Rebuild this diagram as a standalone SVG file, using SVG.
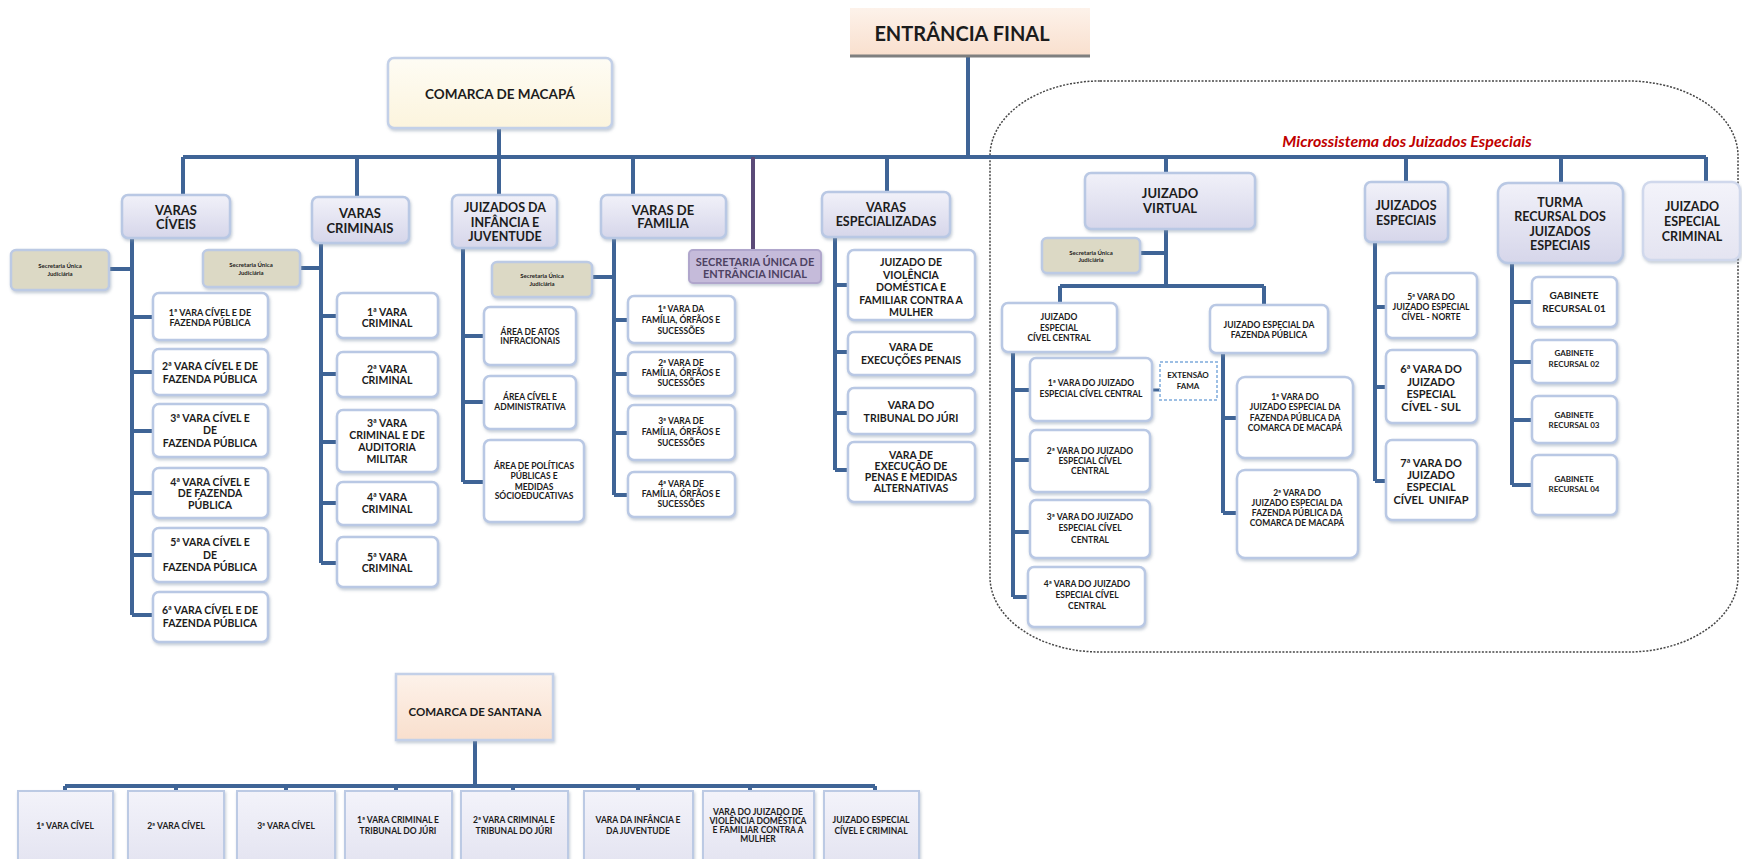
<svg xmlns="http://www.w3.org/2000/svg" width="1742" height="859" viewBox="0 0 1742 859">
<defs>
<linearGradient id="lav" x1="0" y1="0" x2="0" y2="1"><stop offset="0" stop-color="#f1f1f9"/><stop offset="1" stop-color="#d6d6ea"/></linearGradient>
<linearGradient id="lav2" x1="0" y1="0" x2="0" y2="1"><stop offset="0" stop-color="#f3f3fa"/><stop offset="1" stop-color="#e4e4f1"/></linearGradient>
<linearGradient id="peach" x1="0" y1="0" x2="0" y2="1"><stop offset="0" stop-color="#fdf2ea"/><stop offset="1" stop-color="#f9dfcd"/></linearGradient>
<linearGradient id="cream" x1="0" y1="0" x2="0" y2="1"><stop offset="0" stop-color="#fefcf4"/><stop offset="1" stop-color="#fcf4dd"/></linearGradient>
<filter id="sh" x="-10%" y="-10%" width="130%" height="140%"><feDropShadow dx="1" dy="2" stdDeviation="1.5" flood-color="#7f8fa6" flood-opacity="0.45"/></filter>
</defs>
<style>
.hdr{fill:url(#lav);stroke:#b9c8e4;stroke-width:2.5;filter:url(#sh)}
.leaf{fill:#ffffff;stroke:#b9c8e4;stroke-width:2.5;filter:url(#sh)}
.sec{fill:#dcd9c5;stroke:#bccae4;stroke-width:2.5;filter:url(#sh)}
.st{fill:url(#lav2);stroke:#bccae4;stroke-width:2;filter:url(#sh)}
.t{font-family:Lato,"Liberation Sans",sans-serif;font-weight:bold;fill:#1c1c1c;text-anchor:middle}
.ln{stroke:#3f6496;stroke-width:4;fill:none}
.f13{font-size:13px}.f12{font-size:12.5px}.f11{font-size:11px}.f10{font-size:10.5px}.f9{font-size:9px}.f8{font-size:8.5px}.f6{font-size:6px}
</style>
<rect width="1742" height="859" fill="#ffffff"/>

<!-- dashed boundary of micro-system -->
<rect x="990" y="81" width="748" height="571" rx="110" ry="75" fill="none" stroke="#454545" stroke-width="1.5" stroke-dasharray="2,1.5"/>
<text x="1407" y="147" font-family="Lato,'Liberation Sans',sans-serif" font-weight="bold" font-style="italic" font-size="16" fill="#c00000" text-anchor="middle">Microssistema dos Juizados Especiais</text>

<g id="connectors">
<path class="ln" d="M968,57V157 M183,157H1706 M499,128V195 M183,157V195 M357,157V197 M633,157V195 M887,157V192 M1166,157V173 M1406,157V182 M1561,157V183 M1706,157V182"/>
<path d="M753,157V250" stroke="#5b4a78" stroke-width="4"/>
<path class="ln" d="M132,238V615 M109,269H132 M132,317H153 M132,372H153 M132,431H153 M132,493H153 M132,555H153 M132,615H153"/>
<path class="ln" d="M321,243V563 M300,268H321 M321,316H337 M321,374H337 M321,442H337 M321,503H337 M321,563H337"/>
<path class="ln" d="M463,248V482 M463,336H484 M463,402H484 M463,482H484"/>
<path class="ln" d="M614,238V495 M591,277H614 M614,320H628 M614,374H628 M614,433H628 M614,495H628"/>
<path class="ln" d="M835,237V470 M835,285H848 M835,352H848 M835,413H848 M835,470H848"/>
<path class="ln" d="M1166,229V286 M1140,253H1166 M1060,286H1264 M1060,286V303 M1264,286V305"/>
<path class="ln" d="M1013,352V597 M1013,390H1030 M1013,460H1030 M1013,532H1030 M1013,597H1028"/>
<path class="ln" d="M1223,353V513 M1223,418H1237 M1223,513H1237"/>
<path class="ln" d="M1375,242V481 M1375,307H1386 M1375,387H1386 M1375,481H1386"/>
<path class="ln" d="M1512,263V485 M1512,302H1532 M1512,362H1532 M1512,420H1532 M1512,485H1532"/>
<path d="M1152,390H1160" stroke="#3f6496" stroke-width="3"/>
<path class="ln" d="M475,740V786 M65,786H875 M65,786V791 M176,786V791 M286,786V791 M396,786V791 M513,786V791 M638,786V791 M750,786V791 M875,786V791"/>
</g>

<g id="entrancia-final">
<rect x="850" y="8" width="240" height="49" fill="url(#peach)"/>
<path d="M850,56H1090" stroke="#7f7f7f" stroke-width="3"/>
<text class="t" x="962" y="41" font-size="20">ENTRÂNCIA FINAL</text>
</g>

<g id="comarca-macapa">
<rect x="388" y="58" width="224" height="70" rx="6" fill="url(#cream)" stroke="#c3d0e8" stroke-width="2.5" filter="url(#sh)"/>
<text class="t" x="500" y="99" font-size="13.5">COMARCA DE MACAPÁ</text>
</g>

<g id="varas-civeis"><rect class="hdr" x="122" y="195" width="108" height="43" rx="6"/><text class="t f13" x="176"><tspan x="176" y="215">VARAS</tspan><tspan x="176" y="229">CÍVEIS</tspan></text></g>
<g id="varas-criminais"><rect class="hdr" x="312" y="197" width="97" height="46" rx="6"/><text class="t f13" x="360"><tspan x="360" y="218">VARAS</tspan><tspan x="360" y="233">CRIMINAIS</tspan></text></g>
<g id="juizados-infancia"><rect class="hdr" x="452" y="195" width="105" height="53" rx="6"/><text class="t f12" x="505"><tspan x="505" y="212">JUIZADOS DA</tspan><tspan x="505" y="227">INFÂNCIA E</tspan><tspan x="505" y="241">JUVENTUDE</tspan></text></g>
<g id="varas-familia"><rect class="hdr" x="601" y="195" width="125" height="43" rx="6"/><text class="t f13" x="663"><tspan x="663" y="215">VARAS DE</tspan><tspan x="663" y="228">FAMILIA</tspan></text></g>
<g id="varas-especializadas"><rect class="hdr" x="822" y="192" width="128" height="45" rx="6"/><text class="t f12" x="886"><tspan x="886" y="212">VARAS</tspan><tspan x="886" y="226">ESPECIALIZADAS</tspan></text></g>
<g id="juizado-virtual"><rect class="hdr" x="1085" y="173" width="170" height="56" rx="6"/><text class="t f13" x="1170"><tspan x="1170" y="198">JUIZADO</tspan><tspan x="1170" y="213">VIRTUAL</tspan></text></g>
<g id="juizados-especiais"><rect class="hdr" x="1365" y="182" width="83" height="60" rx="6"/><text class="t f12" x="1406"><tspan x="1406" y="210">JUIZADOS</tspan><tspan x="1406" y="225">ESPECIAIS</tspan></text></g>
<g id="turma-recursal"><rect class="hdr" x="1498" y="183" width="125" height="80" rx="10"/><text class="t f12" x="1560"><tspan x="1560" y="207">TURMA</tspan><tspan x="1560" y="221">RECURSAL DOS</tspan><tspan x="1560" y="236">JUIZADOS</tspan><tspan x="1560" y="250">ESPECIAIS</tspan></text></g>
<g id="juizado-especial-criminal"><rect x="1643" y="182" width="97" height="78" rx="8" fill="url(#lav2)" stroke="#d0d8ec" stroke-width="2.5" filter="url(#sh)"/><text class="t f12" x="1692"><tspan x="1692" y="211">JUIZADO</tspan><tspan x="1692" y="226">ESPECIAL</tspan><tspan x="1692" y="241">CRIMINAL</tspan></text></g>

<g id="sec-civeis"><rect class="sec" x="11" y="250" width="98" height="40" rx="5"/><text class="t f6" x="60"><tspan x="60" y="268">Secretaria Única</tspan><tspan x="60" y="276">Judiciária</tspan></text></g>
<g id="sec-criminais"><rect class="sec" x="203" y="250" width="97" height="37" rx="5"/><text class="t f6" x="251"><tspan x="251" y="267">Secretaria Única</tspan><tspan x="251" y="275">Judiciária</tspan></text></g>
<g id="sec-familia"><rect class="sec" x="492" y="262" width="100" height="35" rx="5"/><text class="t f6" x="542"><tspan x="542" y="278">Secretaria Única</tspan><tspan x="542" y="286">Judiciária</tspan></text></g>
<g id="sec-virtual"><rect class="sec" x="1042" y="238" width="98" height="35" rx="5"/><text class="t f6" x="1091"><tspan x="1091" y="255">Secretaria Única</tspan><tspan x="1091" y="262">Judiciária</tspan></text></g>
<g id="secretaria-entrancia-inicial"><rect x="689" y="250" width="132" height="33" rx="4" fill="#c5bbda" stroke="#b0a6cc" stroke-width="2" filter="url(#sh)"/><text class="t f11" x="755" style="fill:#4d4262"><tspan x="755" y="266">SECRETARIA ÚNICA DE</tspan><tspan x="755" y="278">ENTRÂNCIA INICIAL</tspan></text></g>

<g id="vc1"><rect class="leaf" x="153" y="293" width="115" height="47" rx="6"/><text class="t f9" x="210"><tspan x="210" y="316">1ª VARA CÍVEL E DE</tspan><tspan x="210" y="326">FAZENDA PÚBLICA</tspan></text></g>
<g id="vc2"><rect class="leaf" x="153" y="349" width="115" height="46" rx="6"/><text class="t f10" x="210"><tspan x="210" y="370">2ª VARA CÍVEL E DE</tspan><tspan x="210" y="383">FAZENDA PÚBLICA</tspan></text></g>
<g id="vc3"><rect class="leaf" x="153" y="404" width="115" height="53" rx="6"/><text class="t f10" x="210"><tspan x="210" y="422">3ª VARA CÍVEL E</tspan><tspan x="210" y="434">DE</tspan><tspan x="210" y="447">FAZENDA PÚBLICA</tspan></text></g>
<g id="vc4"><rect class="leaf" x="153" y="468" width="115" height="50" rx="6"/><text class="t f10" x="210"><tspan x="210" y="486">4ª VARA CÍVEL E</tspan><tspan x="210" y="497">DE FAZENDA</tspan><tspan x="210" y="509">PÚBLICA</tspan></text></g>
<g id="vc5"><rect class="leaf" x="153" y="528" width="115" height="54" rx="6"/><text class="t f10" x="210"><tspan x="210" y="546">5ª VARA CÍVEL E</tspan><tspan x="210" y="559">DE</tspan><tspan x="210" y="571">FAZENDA PÚBLICA</tspan></text></g>
<g id="vc6"><rect class="leaf" x="153" y="592" width="115" height="50" rx="6"/><text class="t f10" x="210"><tspan x="210" y="614">6ª VARA CÍVEL E DE</tspan><tspan x="210" y="627">FAZENDA PÚBLICA</tspan></text></g>

<g id="cr1"><rect class="leaf" x="337" y="293" width="101" height="45" rx="6"/><text class="t f10" x="387"><tspan x="387" y="316">1ª VARA</tspan><tspan x="387" y="327">CRIMINAL</tspan></text></g>
<g id="cr2"><rect class="leaf" x="337" y="352" width="101" height="45" rx="6"/><text class="t f10" x="387"><tspan x="387" y="373">2ª VARA</tspan><tspan x="387" y="384">CRIMINAL</tspan></text></g>
<g id="cr3"><rect class="leaf" x="337" y="410" width="101" height="62" rx="6"/><text class="t f10" x="387"><tspan x="387" y="427">3ª VARA</tspan><tspan x="387" y="439">CRIMINAL E DE</tspan><tspan x="387" y="451">AUDITORIA</tspan><tspan x="387" y="463">MILITAR</tspan></text></g>
<g id="cr4"><rect class="leaf" x="337" y="482" width="101" height="43" rx="6"/><text class="t f10" x="387"><tspan x="387" y="501">4ª VARA</tspan><tspan x="387" y="513">CRIMINAL</tspan></text></g>
<g id="cr5"><rect class="leaf" x="337" y="537" width="101" height="50" rx="6"/><text class="t f10" x="387"><tspan x="387" y="561">5ª VARA</tspan><tspan x="387" y="572">CRIMINAL</tspan></text></g>

<g id="ij1"><rect class="leaf" x="484" y="307" width="92" height="58" rx="6"/><text class="t f8" x="530"><tspan x="530" y="335">ÁREA DE ATOS</tspan><tspan x="530" y="344">INFRACIONAIS</tspan></text></g>
<g id="ij2"><rect class="leaf" x="484" y="376" width="92" height="53" rx="6"/><text class="t f8" x="530"><tspan x="530" y="400">ÁREA CÍVEL E</tspan><tspan x="530" y="410">ADMINISTRATIVA</tspan></text></g>
<g id="ij3"><rect class="leaf" x="484" y="440" width="100" height="82" rx="6"/><text class="t f8" x="534"><tspan x="534" y="469">ÁREA DE POLÍTICAS</tspan><tspan x="534" y="479">PÚBLICAS E</tspan><tspan x="534" y="490">MEDIDAS</tspan><tspan x="534" y="499">SÓCIOEDUCATIVAS</tspan></text></g>

<g id="fa1"><rect class="leaf" x="628" y="296" width="107" height="47" rx="6"/><text class="t f8" x="681"><tspan x="681" y="312">1ª VARA DA</tspan><tspan x="681" y="323">FAMÍLIA, ÓRFÃOS E</tspan><tspan x="681" y="334">SUCESSÕES</tspan></text></g>
<g id="fa2"><rect class="leaf" x="628" y="352" width="107" height="44" rx="6"/><text class="t f8" x="681"><tspan x="681" y="366">2ª VARA DE</tspan><tspan x="681" y="376">FAMÍLIA, ÓRFÃOS E</tspan><tspan x="681" y="386">SUCESSÕES</tspan></text></g>
<g id="fa3"><rect class="leaf" x="628" y="405" width="107" height="55" rx="6"/><text class="t f8" x="681"><tspan x="681" y="424">3ª VARA DE</tspan><tspan x="681" y="435">FAMÍLIA, ÓRFÃOS E</tspan><tspan x="681" y="446">SUCESSÕES</tspan></text></g>
<g id="fa4"><rect class="leaf" x="628" y="472" width="107" height="45" rx="6"/><text class="t f8" x="681"><tspan x="681" y="487">4ª VARA DE</tspan><tspan x="681" y="497">FAMÍLIA, ÓRFÃOS E</tspan><tspan x="681" y="507">SUCESSÕES</tspan></text></g>

<g id="es1"><rect class="leaf" x="848" y="250" width="127" height="70" rx="6"/><text class="t f10" x="911"><tspan x="911" y="266">JUIZADO DE</tspan><tspan x="911" y="278.5">VIOLÊNCIA</tspan><tspan x="911" y="291">DOMÉSTICA E</tspan><tspan x="911" y="303.5">FAMILIAR CONTRA A</tspan><tspan x="911" y="316">MULHER</tspan></text></g>
<g id="es2"><rect class="leaf" x="848" y="332" width="127" height="43" rx="6"/><text class="t f10" x="911"><tspan x="911" y="351">VARA DE</tspan><tspan x="911" y="364">EXECUÇÕES PENAIS</tspan></text></g>
<g id="es3"><rect class="leaf" x="848" y="388" width="127" height="46" rx="6"/><text class="t f10" x="911"><tspan x="911" y="409">VARA DO</tspan><tspan x="911" y="422">TRIBUNAL DO JÚRI</tspan></text></g>
<g id="es4"><rect class="leaf" x="848" y="442" width="127" height="60" rx="6"/><text class="t f10" x="911"><tspan x="911" y="459">VARA DE</tspan><tspan x="911" y="470">EXECUÇÃO DE</tspan><tspan x="911" y="481">PENAS E MEDIDAS</tspan><tspan x="911" y="492">ALTERNATIVAS</tspan></text></g>

<g id="jecc"><rect class="leaf" x="1002" y="303" width="115" height="49" rx="6"/><text class="t f8" x="1059"><tspan x="1059" y="320">JUIZADO</tspan><tspan x="1059" y="331">ESPECIAL</tspan><tspan x="1059" y="341">CÍVEL CENTRAL</tspan></text></g>
<g id="jefp"><rect class="leaf" x="1210" y="305" width="118" height="48" rx="6"/><text class="t f8" x="1269"><tspan x="1269" y="328">JUIZADO ESPECIAL DA</tspan><tspan x="1269" y="338">FAZENDA PÚBLICA</tspan></text></g>
<g id="jecc1"><rect class="leaf" x="1030" y="358" width="122" height="63" rx="6"/><text class="t f8" x="1091"><tspan x="1091" y="386">1ª VARA DO JUIZADO</tspan><tspan x="1091" y="397">ESPECIAL CÍVEL CENTRAL</tspan></text></g>
<g id="jecc2"><rect class="leaf" x="1030" y="430" width="120" height="62" rx="6"/><text class="t f8" x="1090"><tspan x="1090" y="454">2ª VARA DO JUIZADO</tspan><tspan x="1090" y="464">ESPECIAL CÍVEL</tspan><tspan x="1090" y="474">CENTRAL</tspan></text></g>
<g id="jecc3"><rect class="leaf" x="1030" y="500" width="120" height="58" rx="6"/><text class="t f8" x="1090"><tspan x="1090" y="520">3ª VARA DO JUIZADO</tspan><tspan x="1090" y="531">ESPECIAL CÍVEL</tspan><tspan x="1090" y="543">CENTRAL</tspan></text></g>
<g id="jecc4"><rect class="leaf" x="1028" y="567" width="117" height="60" rx="6"/><text class="t f8" x="1087"><tspan x="1087" y="587">4ª VARA DO JUIZADO</tspan><tspan x="1087" y="598">ESPECIAL CÍVEL</tspan><tspan x="1087" y="609">CENTRAL</tspan></text></g>
<g id="extensao-fama"><rect x="1160" y="362" width="57" height="38" fill="#ffffff" stroke="#9dbfe4" stroke-width="2" stroke-dasharray="3,2"/><text class="t" x="1188" font-size="8"><tspan x="1188" y="378">EXTENSÃO</tspan><tspan x="1188" y="389">FAMA</tspan></text></g>
<g id="jefp1"><rect class="leaf" x="1237" y="377" width="116" height="81" rx="8"/><text class="t f8" x="1295"><tspan x="1295" y="400">1ª VARA DO</tspan><tspan x="1295" y="410">JUIZADO ESPECIAL DA</tspan><tspan x="1295" y="421">FAZENDA PÚBLICA DA</tspan><tspan x="1295" y="431">COMARCA DE MACAPÁ</tspan></text></g>
<g id="jefp2"><rect class="leaf" x="1237" y="470" width="121" height="88" rx="8"/><text class="t f8" x="1297"><tspan x="1297" y="496">2ª VARA DO</tspan><tspan x="1297" y="506">JUIZADO ESPECIAL DA</tspan><tspan x="1297" y="516">FAZENDA PÚBLICA DA</tspan><tspan x="1297" y="526">COMARCA DE MACAPÁ</tspan></text></g>

<g id="je5"><rect class="leaf" x="1386" y="273" width="91" height="65" rx="6"/><text class="t f8" x="1431"><tspan x="1431" y="300">5ª VARA DO</tspan><tspan x="1431" y="310">JUIZADO ESPECIAL</tspan><tspan x="1431" y="320">CÍVEL - NORTE</tspan></text></g>
<g id="je6"><rect class="leaf" x="1386" y="350" width="91" height="73" rx="6"/><text class="t f11" x="1431"><tspan x="1431" y="373">6ª VARA DO</tspan><tspan x="1431" y="386">JUIZADO</tspan><tspan x="1431" y="398">ESPECIAL</tspan><tspan x="1431" y="411">CÍVEL - SUL</tspan></text></g>
<g id="je7"><rect class="leaf" x="1386" y="440" width="91" height="80" rx="6"/><text class="t f11" x="1431"><tspan x="1431" y="467">7ª VARA DO</tspan><tspan x="1431" y="479">JUIZADO</tspan><tspan x="1431" y="491">ESPECIAL</tspan><tspan x="1431" y="504" xml:space="preserve">CÍVEL  UNIFAP</tspan></text></g>

<g id="gab1"><rect class="leaf" x="1532" y="277" width="85" height="50" rx="6"/><text class="t" x="1574" font-size="10"><tspan x="1574" y="299">GABINETE</tspan><tspan x="1574" y="312">RECURSAL 01</tspan></text></g>
<g id="gab2"><rect class="leaf" x="1532" y="340" width="85" height="43" rx="6"/><text class="t" x="1574" font-size="8"><tspan x="1574" y="356">GABINETE</tspan><tspan x="1574" y="367">RECURSAL 02</tspan></text></g>
<g id="gab3"><rect class="leaf" x="1532" y="396" width="85" height="47" rx="6"/><text class="t" x="1574" font-size="8"><tspan x="1574" y="418">GABINETE</tspan><tspan x="1574" y="428">RECURSAL 03</tspan></text></g>
<g id="gab4"><rect class="leaf" x="1532" y="455" width="85" height="60" rx="6"/><text class="t" x="1574" font-size="8"><tspan x="1574" y="482">GABINETE</tspan><tspan x="1574" y="492">RECURSAL 04</tspan></text></g>

<g id="comarca-santana"><rect x="396" y="674" width="157" height="66" fill="url(#peach)" stroke="#c3d0e8" stroke-width="2.5" filter="url(#sh)"/><text class="t" x="475" y="716" font-size="11.5">COMARCA DE SANTANA</text></g>

<g id="sa1"><rect class="st" x="18" y="791" width="95" height="72"/><text class="t f8" x="65" y="829">1ª VARA CÍVEL</text></g>
<g id="sa2"><rect class="st" x="128" y="791" width="96" height="72"/><text class="t f8" x="176" y="829">2ª VARA CÍVEL</text></g>
<g id="sa3"><rect class="st" x="237" y="791" width="98" height="72"/><text class="t f8" x="286" y="829">3ª VARA CÍVEL</text></g>
<g id="sa4"><rect class="st" x="345" y="791" width="107" height="72"/><text class="t f8" x="398"><tspan x="398" y="823">1ª VARA CRIMINAL E</tspan><tspan x="398" y="834">TRIBUNAL DO JÚRI</tspan></text></g>
<g id="sa5"><rect class="st" x="461" y="791" width="107" height="72"/><text class="t f8" x="514"><tspan x="514" y="823">2ª VARA CRIMINAL E</tspan><tspan x="514" y="834">TRIBUNAL DO JÚRI</tspan></text></g>
<g id="sa6"><rect class="st" x="584" y="791" width="109" height="72"/><text class="t f8" x="638"><tspan x="638" y="823">VARA DA INFÂNCIA E</tspan><tspan x="638" y="834">DA JUVENTUDE</tspan></text></g>
<g id="sa7"><rect class="st" x="703" y="791" width="111" height="72"/><text class="t f8" x="758"><tspan x="758" y="815">VARA DO JUIZADO DE</tspan><tspan x="758" y="824">VIOLÊNCIA DOMÉSTICA</tspan><tspan x="758" y="833">E FAMILIAR CONTRA A</tspan><tspan x="758" y="842">MULHER</tspan></text></g>
<g id="sa8"><rect class="st" x="824" y="791" width="95" height="72"/><text class="t f8" x="871"><tspan x="871" y="823">JUIZADO ESPECIAL</tspan><tspan x="871" y="834">CÍVEL E CRIMINAL</tspan></text></g>
</svg>
